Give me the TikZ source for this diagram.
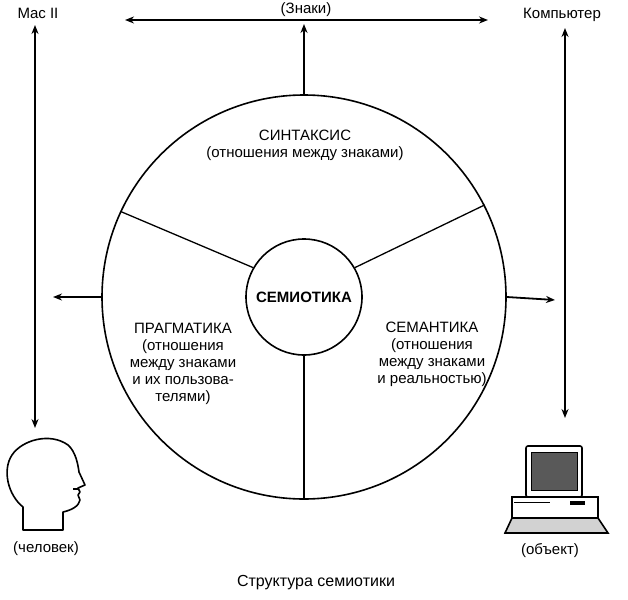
\documentclass[tikz,border=0pt]{standalone}
\usepackage{fontspec}
\setmainfont{Liberation Sans}
\usetikzlibrary{arrows.meta}
\begin{document}
\begin{tikzpicture}[x=1pt,y=-1pt,
  arr/.style={line width=1.8pt,-{Stealth[length=9pt,width=7pt]}},
  darr/.style={line width=1.8pt,{Stealth[length=9pt,width=7pt]}-{Stealth[length=9pt,width=7pt]}},
  lbl/.style={font=\fontsize{15}{17}\selectfont,align=center,inner sep=0pt}]
\useasboundingbox (0,0) rectangle (628,599);
\coordinate (C) at (304,297);
\node[circle,draw,line width=1.6pt,minimum size=404pt,inner sep=0pt] (big) at (C) {};
\node[circle,draw,line width=1.6pt,minimum size=116pt,inner sep=0pt,font=\fontsize{15}{17}\selectfont\bfseries] (sem) at (C) {СЕМИОТИКА};
\draw[line width=1.3pt] (sem.150) -- (big.155);
\draw[line width=1.3pt] (sem.30) -- (big.27);
\draw[line width=1.3pt] (sem.270) -- (big.270);
% labels
\node[lbl] (syn) at (305,145) {СИНТАКСИС\\(отношения между знаками)};
\node[lbl] (prag) at (183,364) {ПРАГМАТИКА\\(отношения\\между знаками\\и их пользова-\\телями)};
\node[lbl] (sema) at (432,354) {СЕМАНТИКА\\(отношения\\между знаками\\и реальностью)};
% top
\coordinate (tl) at (125,20); \coordinate (tr) at (488,20);
\draw[darr] (tl) -- (tr);
\node[lbl,fill=white,inner sep=2pt] (zn) at (306,10) {(Знаки)};
\coordinate (tt) at (304,24);
\draw[arr] (big.north) -- (tt);
% left/right verticals
\coordinate (l1) at (35,25); \coordinate (l2) at (35,428);
\draw[darr] (l1) -- (l2);
\coordinate (r1) at (565,28); \coordinate (r2) at (565,418);
\draw[darr] (r1) -- (r2);
\node[lbl] (mac) at (38,13) {Mac II};
\node[lbl] (comp) at (562,15) {Компьютер};
\coordinate (la) at (53,297); \coordinate (ra) at (555,300);
\draw[arr] (big.west) -- (la);
\draw[arr] (big.east) -- (ra);
% head
\draw[line width=1.6pt,line join=round] (23,530) -- (23,507)
  .. controls (8,495) and (2,470) .. (12,455)
  .. controls (22,440) and (50,432) .. (68,445)
  .. controls (76,452) and (78,465) .. (79,472)
  -- (85,485) -- (78,488) -- (80,492) -- (78,495) -- (80,500)
  .. controls (79,506) and (72,510) .. (63,512) -- (63,530) -- cycle;
\draw[line width=1.8pt] (73,489) -- (79,489);
\node[lbl] (man) at (46,549) {(человек)};
% computer
\draw[line width=1.6pt,rounded corners=2pt] (526,446) rectangle (582,497);
\fill[gray!70!black] (531,452) rectangle (577,490);
\draw[line width=1pt] (531,452) rectangle (577,490);
\draw[line width=1.6pt] (512,497) rectangle (598,518);
\draw[line width=1pt] (514,502) -- (550,502);
\fill (570,501) rectangle (585,505);
\draw[line width=1.6pt,fill=gray!35] (512,518) -- (598,518) -- (608,533) -- (505,533) -- cycle;
\node[lbl] (obj) at (550,551) {(объект)};
\node[lbl,font=\fontsize{16}{18}\selectfont] (cap) at (316,583) {Структура семиотики};
\end{tikzpicture}
\end{document}
